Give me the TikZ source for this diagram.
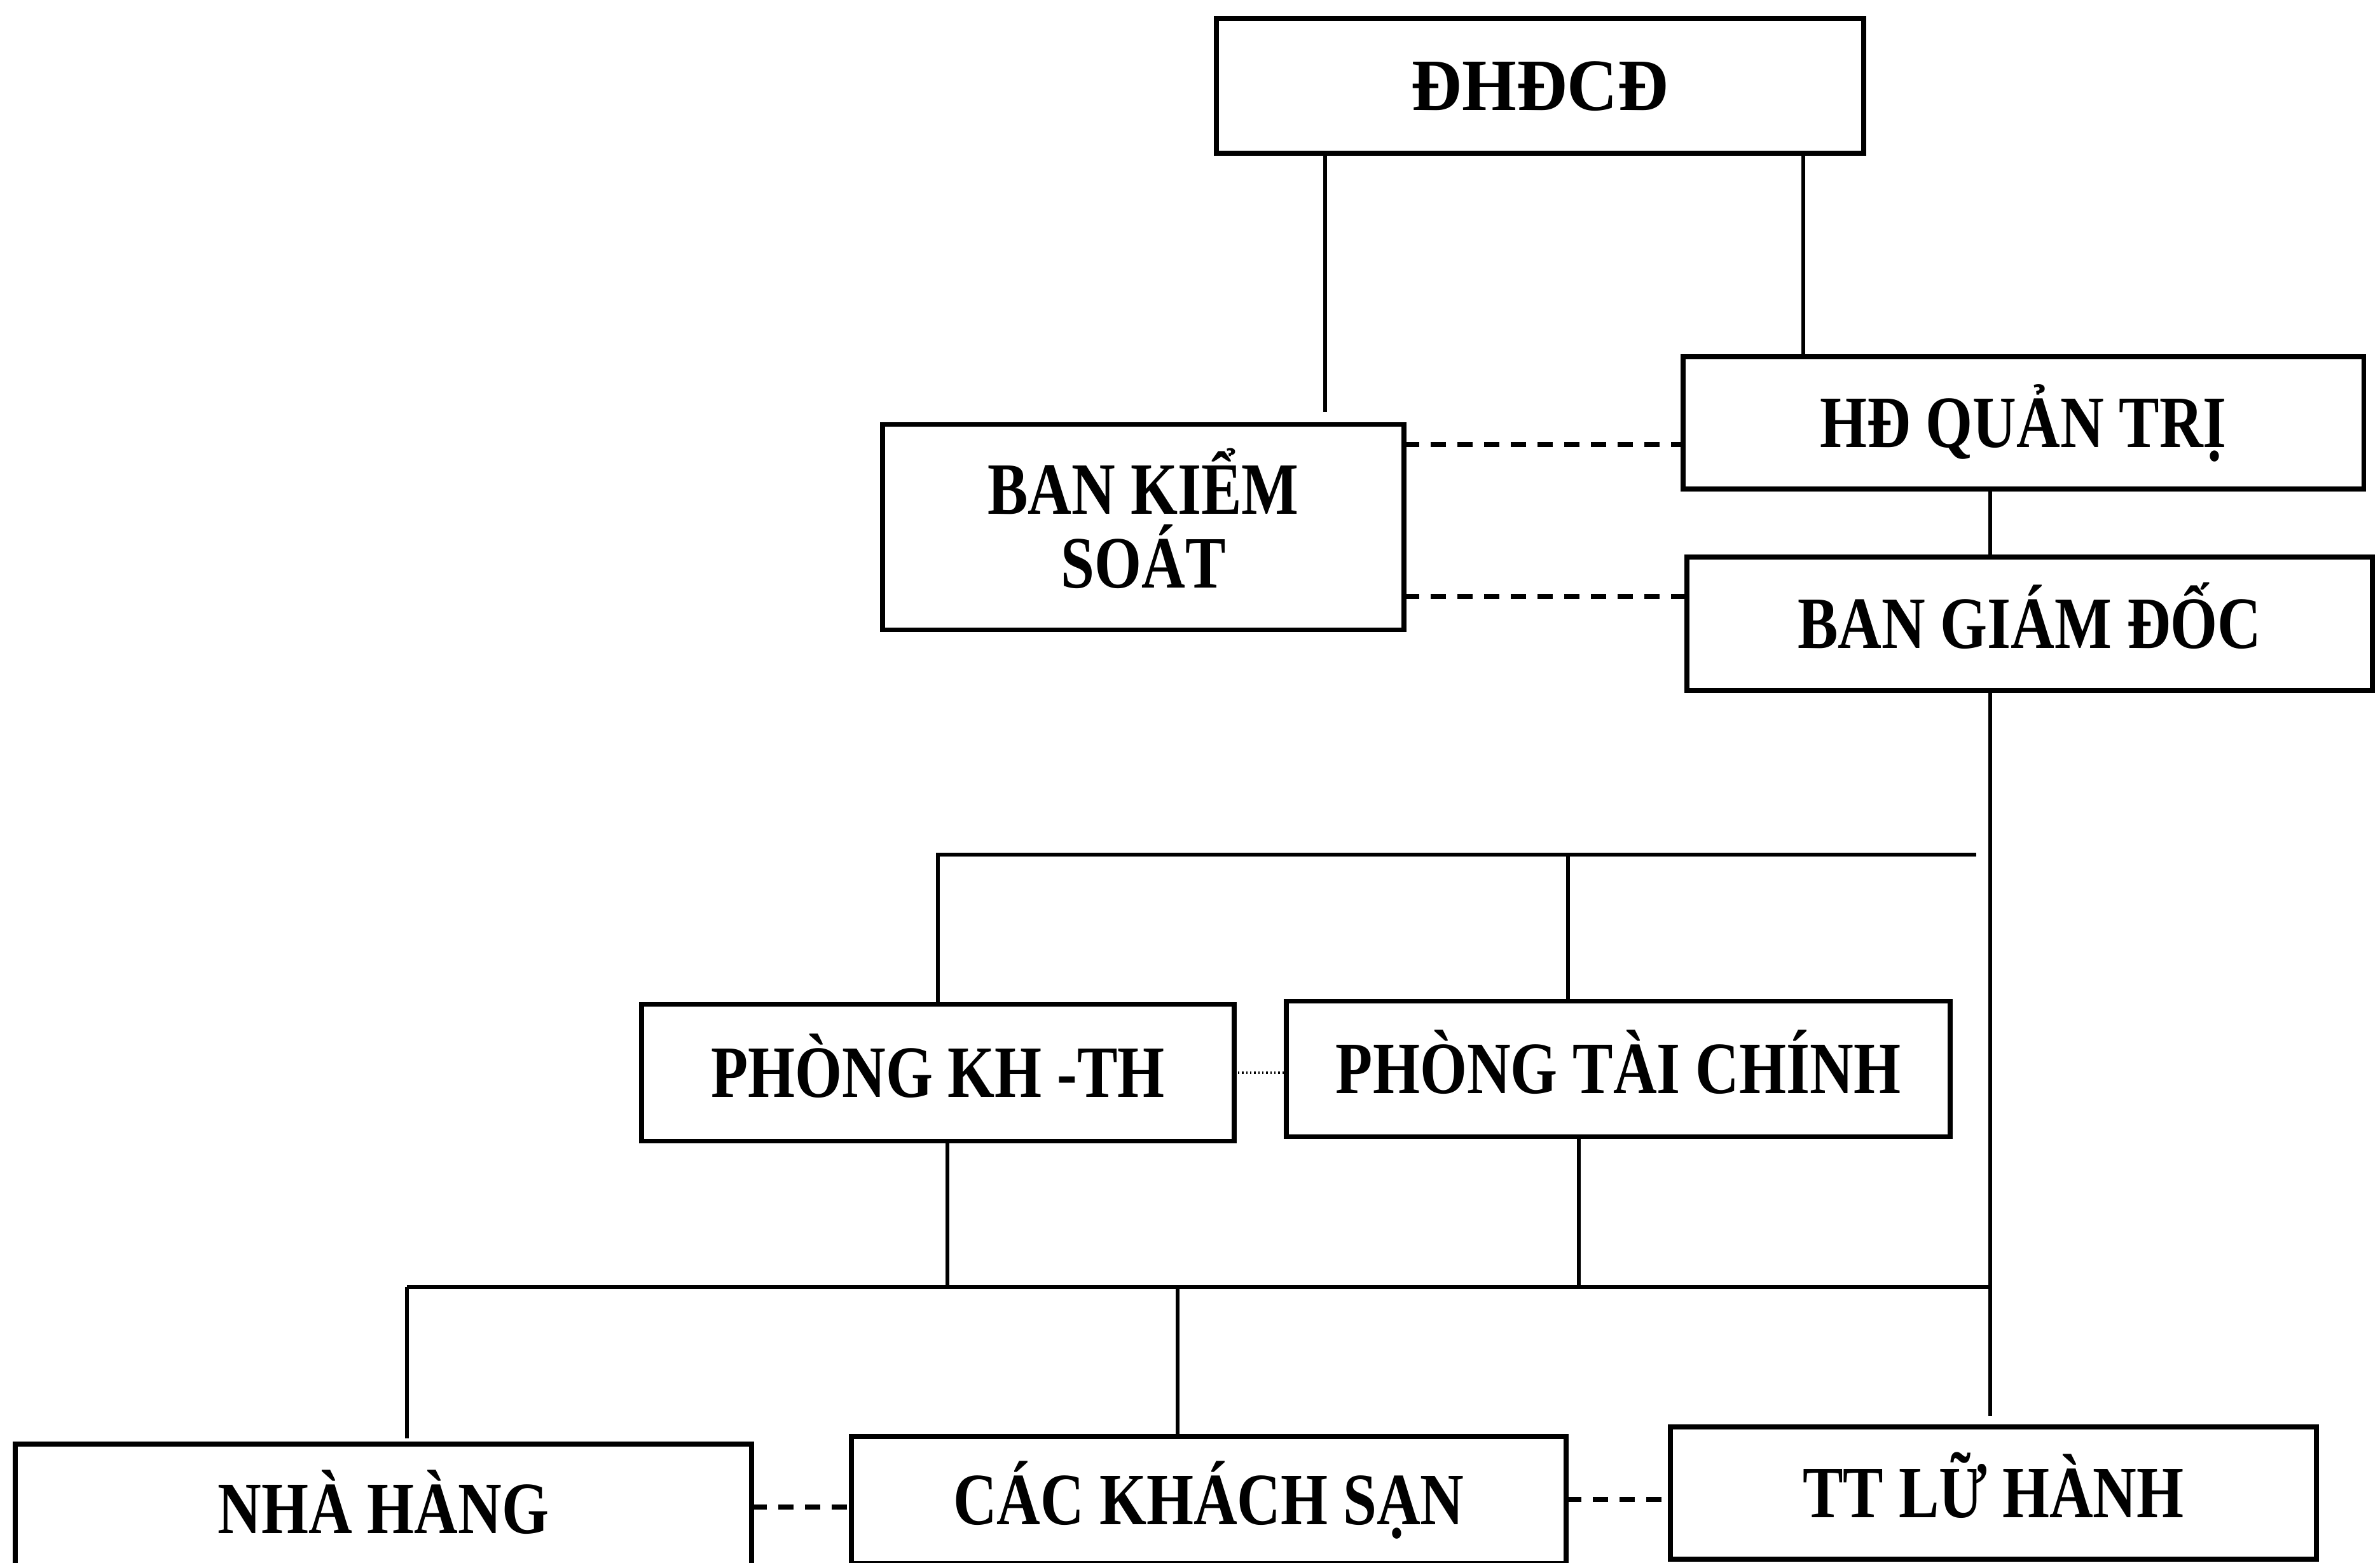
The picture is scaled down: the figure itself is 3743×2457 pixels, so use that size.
\documentclass[tikz,border=0pt]{standalone}
\usepackage{fontspec}
\setmainfont{Liberation Serif}[FakeStretch=0.82]
\newfontfamily\headfont{Liberation Serif}[FakeStretch=0.95]
\usepackage{tikz}

\tikzset{
    boxbase/.style={draw, line width=2.2pt, inner sep=0pt, outer sep=0pt,
        font=\bfseries\fontsize{33}{33}\selectfont},
    unitbox/.style={boxbase, text height=21.8pt, text depth=0pt},
    link/.style={line width=1.6pt},
    sidelink/.style={line width=2.4pt, dash pattern=on 0.24cm off 0.18cm},
    dotlink/.style={line width=1pt, dash pattern=on 0.6pt off 1.2pt}
}

\begin{document}
\begin{tikzpicture}[x=0.01cm,y=-0.01cm]
        \useasboundingbox (0,0) rectangle (3743,2457);
        \clip (0,0) rectangle (3743,2457);

        \node[unitbox, minimum width=10.17cm, minimum height=2.12cm, font=\headfont\bfseries\fontsize{33}{33}\selectfont] (dhcd) at (2422,135) {ĐHĐCĐ};
        \node[boxbase, align=center, minimum width=8.19cm, minimum height=3.23cm] (bks) at (1798,829) {BAN KI\smash{Ể}M\\SOÁT};
        \node[unitbox, minimum width=10.70cm, minimum height=2.08cm] (hdqt) at (3182,665) {HĐ QUẢN TRỊ};
        \node[unitbox, minimum width=10.77cm, minimum height=2.10cm] (bgd) at (3192,981) {BAN GIÁM ĐỐC};
        \node[unitbox, minimum width=9.31cm, minimum height=2.15cm] (pkh) at (1475,1687) {PHÒNG KH -TH};
        \node[unitbox, minimum width=10.43cm, minimum height=2.13cm] (ptc) at (2545,1681) {PHÒNG TÀI CHÍNH};
        \node[unitbox, minimum width=11.58cm, minimum height=2.04cm] (nh) at (603,2373) {NHÀ HÀNG};
        \node[unitbox, minimum width=11.24cm, minimum height=2.00cm] (cks) at (1901,2359) {CÁC KHÁCH SẠN};
        \node[unitbox, minimum width=10.15cm, minimum height=2.08cm] (tt) at (3135,2348) {TT LỮ HÀNH};

        \coordinate (lx) at (2084,0);
        \coordinate (rx) at (2836,0);
        \coordinate (trunk) at (3130,0);
        \coordinate (tx) at (2466,0);
        \coordinate (kx) at (1490,0);
        \coordinate (tx2) at (2483,0);
        \coordinate (cx) at (1852,0);
        \coordinate (bus1) at (3108,1344);
        \coordinate (bus2) at (640,2024);
        \coordinate (d1) at (0,699);
        \coordinate (d2) at (0,938);
        \coordinate (d3) at (0,2370);
        \coordinate (d4) at (0,2358);

        \draw[link, shorten >=0.19cm] (dhcd.south -| lx) -- (bks.north -| lx);
        \draw[link] (dhcd.south -| rx) -- (hdqt.north -| rx);
        \draw[link] (hdqt.south -| trunk) -- (bgd.north -| trunk);
        \draw[link, shorten >=0.17cm] (bgd.south -| trunk) -- (tt.north -| trunk);

        \draw[sidelink] (bks.east |- d1) -- (hdqt.west |- d1);
        \draw[sidelink] (bks.east |- d2) -- (bgd.west |- d2);

        \draw[link] (pkh.north) -- (pkh.north |- bus1) -- (bus1);
        \draw[link] (ptc.north -| tx) -- (bus1 -| tx);
        \draw[dotlink] (pkh.east) -- (ptc.west |- pkh.east);

        \draw[link] (pkh.south -| kx) -- (bus2 -| kx);
        \draw[link] (ptc.south -| tx2) -- (bus2 -| tx2);
        \draw[link] (bus2) -- (bus2 -| trunk);
        \draw[link, shorten >=0.09cm] (bus2) -- (nh.north -| bus2);
        \draw[link, shorten >=0.04cm] (bus2 -| cx) -- (cks.north -| cx);

        \draw[sidelink] (nh.east |- d3) -- (cks.west |- d3);
        \draw[sidelink] (cks.east |- d4) -- (tt.west |- d4);
\end{tikzpicture}
\end{document}
